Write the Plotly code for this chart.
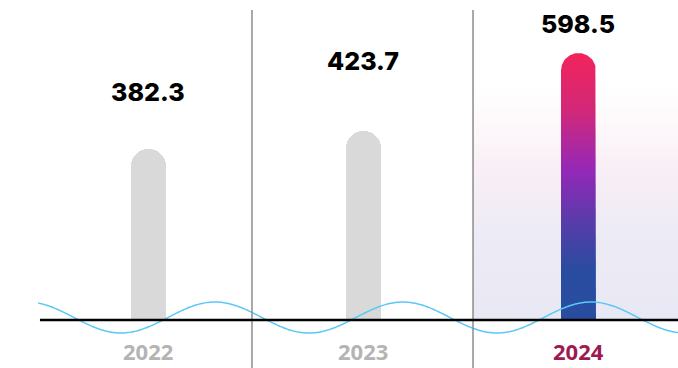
import numpy as np
import plotly.graph_objects as go

# ---- data ----
years = ["2022", "2023", "2024"]
revenue = [382.3, 423.7, 598.5]
value_text = ["382.3", "423.7", "598.5"]
highlight = "2024"

# ---- styling ----
W, H = 678, 368
X_RANGE = [-0.6876, 2.4623]
Y_RANGE = [-107.6, 717.3]
BAR_W = 0.1626                 # bar width in category units
CAP_PX = 17.5                  # radius of the rounded bar top, in pixels
GRAY = "#D9D9D9"
YEAR_GRAY = "#B4B4B4"
YEAR_HI = "#9C1B52"
WAVE_BLUE = "#5CC8F6"
SEP_X = [0.483, 1.510]         # separators between the year columns
LABEL_LIFT = [57, 70, 29]      # label offset above each bar (px)

px_per_y = H / (Y_RANGE[1] - Y_RANGE[0])
px_per_x = W / (X_RANGE[1] - X_RANGE[0])
x_pos = list(range(len(years)))
hi = years.index(highlight)

fig = go.Figure()

# soft tinted column behind the highlighted year
col_top = Y_RANGE[1] - 10 / px_per_y
fig.add_trace(go.Scatter(
    x=[SEP_X[1], X_RANGE[1] + 0.1, X_RANGE[1] + 0.1, SEP_X[1], SEP_X[1]],
    y=[0, 0, col_top, col_top, 0],
    mode="lines", fill="toself", line=dict(width=0),
    fillgradient=dict(type="vertical", start=0, stop=col_top,
                      colorscale=[[0.0, "#E8E8F4"], [0.28, "#EDEBF5"],
                                  [0.47, "#F8EEF5"], [0.62, "#FDF7FA"],
                                  [0.76, "#FFFFFF"], [1.0, "#FFFFFF"]]),
    hoverinfo="skip", showlegend=False))

# bars with rounded tops (highlighted one is painted by the gradient path)
bar_colors = [GRAY if y != highlight else "rgba(0,0,0,0)" for y in years]
fig.add_trace(go.Bar(
    x=x_pos, y=revenue, width=BAR_W,
    marker=dict(color=bar_colors, line=dict(width=0), cornerradius="50%"),
    hovertemplate="%{y}<extra></extra>", showlegend=False))

# gradient fill for the highlighted bar, built from its value
v = revenue[hi]
rx = BAR_W / 2
ry = CAP_PX / px_per_y
t = np.linspace(0, np.pi, 60)
cap_x = hi + rx * np.cos(t)
cap_y = (v - ry) + ry * np.sin(t)
path_x = np.concatenate([[hi + rx], cap_x, [hi - rx, hi + rx]])
path_y = np.concatenate([[0], cap_y, [0, 0]])
fig.add_trace(go.Scatter(
    x=path_x, y=path_y, mode="lines", fill="toself", line=dict(width=0),
    fillgradient=dict(type="vertical", start=0, stop=v,
                      colorscale=[[0.0, "#284DA0"], [0.19, "#2A4CA0"],
                                  [0.38, "#5B3BAA"], [0.56, "#9428B8"],
                                  [0.78, "#D1287A"], [1.0, "#F2245A"]]),
    hoverinfo="skip", showlegend=False))

# decorative wave along the baseline
wave_x = np.linspace(-0.511, X_RANGE[1], 400)
wave_mid = 2.5 / px_per_y
wave_amp = 15.5 / px_per_y
wave_period = 188 / px_per_x
wave_y = wave_mid + wave_amp * np.cos(2 * np.pi * (wave_x - 0.311) / wave_period)
fig.add_trace(go.Scatter(
    x=wave_x, y=wave_y, mode="lines",
    line=dict(color=WAVE_BLUE, width=1.5, shape="spline"),
    hoverinfo="skip", showlegend=False))

# column separators and baseline
for sx in SEP_X:
    fig.add_shape(type="line", x0=sx, x1=sx, y0=Y_RANGE[0], y1=col_top,
                  line=dict(color="#8C8C8C", width=1.5), layer="above")
fig.add_shape(type="line", x0=-0.502, x1=X_RANGE[1], y0=0, y1=0,
              line=dict(color="#000000", width=2.5), layer="above")

# value labels above bars
for i, (val, txt) in enumerate(zip(revenue, value_text)):
    fig.add_annotation(x=i, y=val, text=txt, showarrow=False,
                       yanchor="middle", yshift=LABEL_LIFT[i],
                       font=dict(family="Inter", size=25, color="#000000",
                                 weight=800))

# year labels under the baseline
for i, yr in enumerate(years):
    fig.add_annotation(x=i, y=Y_RANGE[0] + 1 / px_per_y, text=yr,
                       showarrow=False, yanchor="bottom", borderpad=0,
                       font=dict(family="Open Sans", size=22, weight=700,
                                 color=YEAR_HI if yr == highlight else YEAR_GRAY))

fig.update_layout(
    width=W, height=H,
    margin=dict(l=0, r=0, t=0, b=0),
    paper_bgcolor="white", plot_bgcolor="white",
    xaxis=dict(range=X_RANGE, visible=False, fixedrange=True),
    yaxis=dict(range=Y_RANGE, visible=False, fixedrange=True),
    bargap=0,
)

fig.write_html("out.html")
